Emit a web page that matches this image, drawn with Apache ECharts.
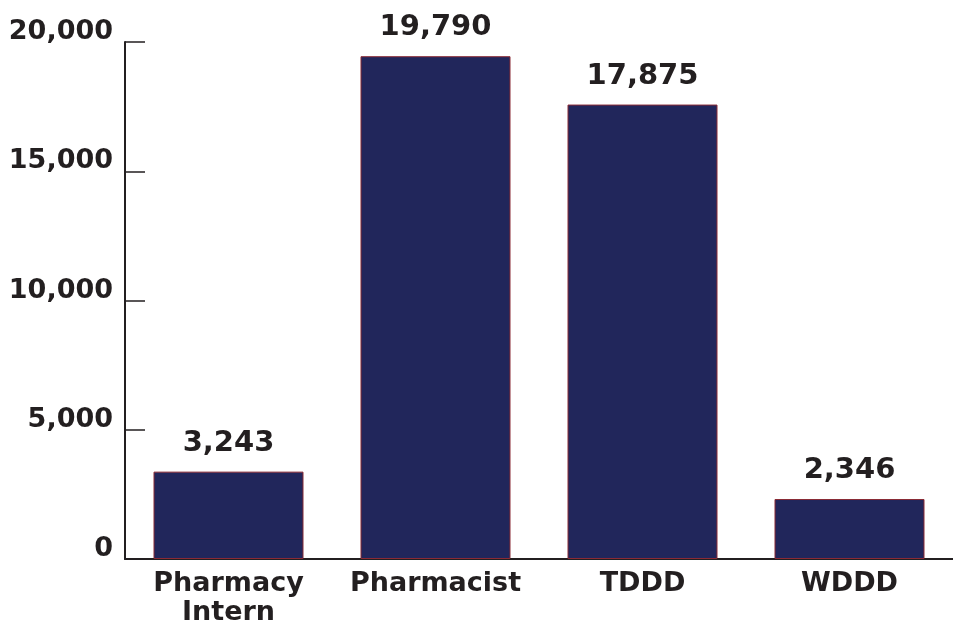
<!DOCTYPE html>
<html>
<head>
<meta charset="utf-8">
<script src="https://cdn.jsdelivr.net/npm/echarts@6/dist/echarts.min.js"></script>
<style>
html,body{margin:0;padding:0;background:#fff;overflow:hidden;}
#chart{width:953px;height:627px;}
</style>
</head>
<body>
<div id="chart"></div>
<script>
const categories = ['Pharmacy\nIntern', 'Pharmacist', 'TDDD', 'WDDD'];
const barValues = [3380, 19450, 17580, 2320];
const valueLabels = ['3,243', '19,790', '17,875', '2,346'];
const yTicks = [0, 5000, 10000, 15000, 20000];

const textColor = '#231f20';
const font = '"DejaVu Sans", Verdana, sans-serif';

const chart = echarts.init(document.getElementById('chart'));
chart.setOption({
  animation: false,
  grid: { left: 125, width: 836, top: 42, bottom: 64, containLabel: false },
  xAxis: {
    type: 'category',
    data: categories,
    axisLine: { lineStyle: { color: textColor, width: 2 } },
    axisTick: { inside: true, length: 13, lineStyle: { color: textColor, width: 1.5 } },
    axisLabel: {
      interval: 0,
      color: textColor, fontFamily: font, fontWeight: 'bold', fontSize: 27,
      lineHeight: 29, margin: 10
    }
  },
  yAxis: {
    type: 'value',
    min: yTicks[0],
    max: yTicks[yTicks.length - 1],
    interval: 5000,
    splitLine: { show: false },
    axisLine: { show: true, lineStyle: { color: textColor, width: 2 } },
    axisTick: { show: true, inside: true, length: 20, lineStyle: { color: textColor, width: 1.5 } },
    axisLabel: {
      color: textColor, fontFamily: font, fontWeight: 'bold', fontSize: 27,
      margin: 12, verticalAlign: 'bottom', lineHeight: 20,
      formatter: v => v.toLocaleString('en-US')
    }
  },
  series: [{
    type: 'bar',
    data: barValues,
    barWidth: 150,
    itemStyle: { color: '#21265b', borderColor: '#8a2a35', borderWidth: 1 },
    label: {
      show: true, position: 'top', distance: 14,
      color: textColor, fontFamily: font, fontWeight: 'bold', fontSize: 29,
      formatter: p => valueLabels[p.dataIndex]
    }
  }]
});
</script>
</body>
</html>
